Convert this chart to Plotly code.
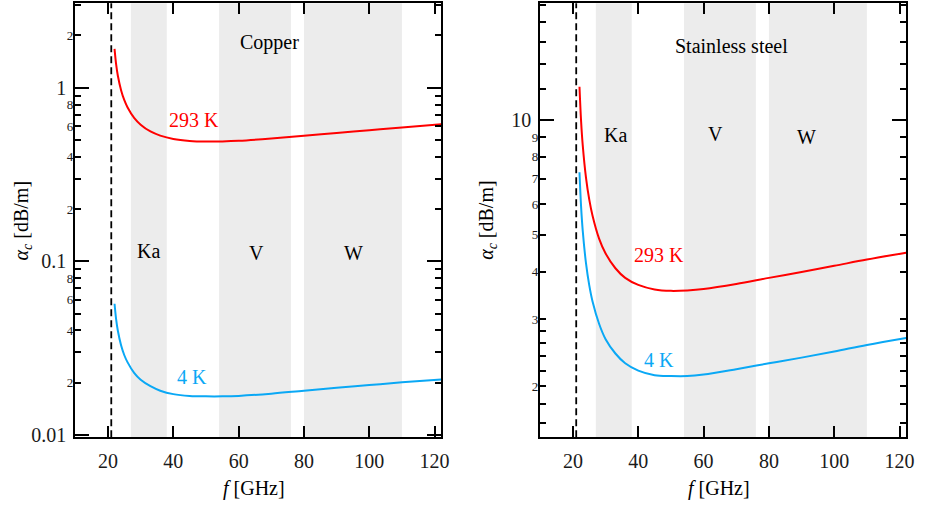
import math
import plotly.graph_objects as go

# ---------------- data ----------------
freq = [22, 22.5, 23, 24, 25, 26, 28, 30, 33, 36, 40, 45, 50, 55, 60, 70, 80, 90, 100, 110, 122]
cu_293 = [1.676, 1.358, 1.176, 0.968, 0.848, 0.770, 0.671, 0.613, 0.560, 0.530, 0.507,
          0.494, 0.490, 0.491, 0.495, 0.510, 0.529, 0.549, 0.569, 0.590, 0.616]
cu_4 = [0.0570, 0.0462, 0.0400, 0.0329, 0.0288, 0.0262, 0.0228, 0.0208, 0.0191, 0.0180, 0.0172,
        0.0168, 0.0167, 0.0167, 0.0168, 0.0173, 0.0180, 0.0187, 0.0194, 0.0201, 0.0209]
ss_293 = [12.19, 9.88, 8.56, 7.04, 6.17, 5.60, 4.88, 4.46, 4.08, 3.85, 3.69,
          3.59, 3.56, 3.57, 3.60, 3.71, 3.85, 3.99, 4.14, 4.30, 4.48]
ss_4 = [7.28, 5.90, 5.11, 4.20, 3.68, 3.34, 2.92, 2.66, 2.44, 2.30, 2.20,
        2.14, 2.13, 2.13, 2.15, 2.22, 2.30, 2.38, 2.47, 2.57, 2.68]

f_cutoff = 21.0
band_names = ["Ka", "V", "W"]
band_lo = [27, 54, 80]
band_hi = [38, 76, 110]

x_ticks = [20, 40, 60, 80, 100, 120]

cu_major = [0.01, 0.1, 1]
cu_major_text = ["0.01", "0.1", "1"]
cu_minor_lab = [0.02, 0.04, 0.06, 0.08, 0.2, 0.4, 0.6, 0.8, 2]
cu_minor_text = ["2", "4", "6", "8", "2", "4", "6", "8", "2"]
cu_minor_nolab = [0.03, 0.05, 0.07, 0.09, 0.3, 0.5, 0.7, 0.9, 3]

ss_major = [10]
ss_major_text = ["10"]
ss_minor_lab = [2, 3, 4, 5, 6, 7, 8, 9, 20]
ss_minor_text = ["2", "3", "4", "5", "6", "7", "8", "9", "2"]
ss_minor_nolab = [1.6, 1.8, 2.2, 2.4, 2.6, 2.8, 12, 14, 16, 18]

# ---------------- styling ----------------
W, H = 925, 518
FONT = "Liberation Serif"
RED = "#ff0000"
BLUE = "#0aa8f5"
GRAY = "#ececec"

x_range = [10, 122]
cu_range = [-2.013, 0.4867]
ss_range = [0.168, 1.3047]

dom_x1 = [76 / W, 445 / W]
dom_x2 = [545 / W, 914 / W]
dom_y = [(H - 445) / H, (H - 3.3) / H]

fig = go.Figure()

# curves
fig.add_trace(go.Scatter(x=freq, y=cu_293, mode="lines", line=dict(color=RED, width=2, shape="spline"),
                         xaxis="x", yaxis="y", showlegend=False))
fig.add_trace(go.Scatter(x=freq, y=cu_4, mode="lines", line=dict(color=BLUE, width=2, shape="spline"),
                         xaxis="x", yaxis="y", showlegend=False))
fig.add_trace(go.Scatter(x=freq, y=ss_293, mode="lines", line=dict(color=RED, width=2, shape="spline"),
                         xaxis="x2", yaxis="y2", showlegend=False))
fig.add_trace(go.Scatter(x=freq, y=ss_4, mode="lines", line=dict(color=BLUE, width=2, shape="spline"),
                         xaxis="x2", yaxis="y2", showlegend=False))
# helper traces for overlay axes (minor-labelled ticks)
fig.add_trace(go.Scatter(x=[None], y=[None], xaxis="x", yaxis="y3", showlegend=False, hoverinfo="skip"))
fig.add_trace(go.Scatter(x=[None], y=[None], xaxis="x2", yaxis="y4", showlegend=False, hoverinfo="skip"))

# bands and cutoff line
for xr, yr in (("x", "y domain"), ("x2", "y2 domain")):
    for lo, hi in zip(band_lo, band_hi):
        fig.add_shape(type="rect", xref=xr, yref=yr, x0=lo, x1=hi, y0=0, y1=1,
                      fillcolor=GRAY, line_width=0, layer="below")
    fig.add_shape(type="line", xref=xr, yref=yr, x0=f_cutoff, x1=f_cutoff, y0=0, y1=1,
                  line=dict(color="black", width=1.8, dash="7px,4px"), layer="above")

tick_font = dict(family=FONT, size=20, color="#1a1a1a")
minor_font = dict(family=FONT, size=13, color="#1a1a1a")

def xaxis(domain, anchor):
    return dict(domain=domain, anchor=anchor, range=x_range, tickvals=x_ticks,
                ticks="inside", ticklen=11, tickwidth=1.6, tickcolor="black",
                showline=True, linewidth=2, linecolor="black", mirror="ticks",
                showgrid=False, zeroline=False, tickfont=tick_font, ticklabelstandoff=5)

def yaxis_major(anchor, rng, vals, text, minor_vals):
    return dict(domain=dom_y, anchor=anchor, type="log", range=rng,
                tickvals=vals, ticktext=text, ticks="inside", ticklen=14, tickwidth=1.6,
                tickcolor="black", showline=True, linewidth=2, linecolor="black",
                mirror="ticks", showgrid=False, zeroline=False, tickfont=tick_font,
                ticklabelstandoff=3,
                minor=dict(tickvals=minor_vals, ticks="inside", ticklen=6, tickwidth=1.6,
                           tickcolor="black", showgrid=False))

def yaxis_minor(anchor, over, rng, vals, text):
    return dict(domain=dom_y, anchor=anchor, overlaying=over, side="left", type="log", range=rng,
                tickvals=vals, ticktext=text, ticks="inside", ticklen=6, tickwidth=1.6,
                tickcolor="black", showline=False, mirror="ticks", showgrid=False,
                zeroline=False, tickfont=minor_font, ticklabelstandoff=1)

fig.update_layout(
    width=W, height=H,
    margin=dict(l=0, r=0, t=0, b=0),
    paper_bgcolor="white", plot_bgcolor="white",
    xaxis=xaxis(dom_x1, "y"),
    xaxis2=xaxis(dom_x2, "y2"),
    yaxis=yaxis_major("x", cu_range, cu_major, cu_major_text, cu_minor_nolab),
    yaxis2=yaxis_major("x2", ss_range, ss_major, ss_major_text, ss_minor_nolab),
    yaxis3=yaxis_minor("x", "y", cu_range, cu_minor_lab, cu_minor_text),
    yaxis4=yaxis_minor("x2", "y2", ss_range, ss_minor_lab, ss_minor_text),
    font=dict(family=FONT, size=20, color="black"),
)

def ann(xr, yr, x, yval, text, color="black", size=20):
    fig.add_annotation(xref=xr, yref=yr, x=x, y=math.log10(yval), text=text, showarrow=False,
                       font=dict(family=FONT, size=size, color=color), xanchor="center", yanchor="middle")

# copper panel labels
ann("x", "y", 69.5, 1.83, "Copper")
ann("x", "y", 46.2, 0.653, "293 K", RED)
ann("x", "y", 45.8, 0.0215, "4 K", BLUE)
for name, x, yv in zip(band_names, [32.4, 65.6, 95.3], [0.115, 0.112, 0.112]):
    ann("x", "y", x, yv, name)

# stainless steel panel labels
ann("x2", "y2", 68.4, 15.6, "Stainless steel")
ann("x2", "y2", 46.2, 4.43, "293 K", RED)
ann("x2", "y2", 46.4, 2.35, "4 K", BLUE)
for name, x, yv in zip(band_names, [32.9, 63.7, 91.6], [9.13, 9.19, 9.03]):
    ann("x2", "y2", x, yv, name)

# axis titles
ytitle = "<i>α</i><sub><i>c</i></sub> [dB/m]"
xtitle = "<i>f</i> [GHz]"
for xp in (22.5 / W, 491 / W):
    fig.add_annotation(xref="paper", yref="paper", x=xp, y=(H - 224) / H, text=ytitle,
                       textangle=-90, showarrow=False, font=dict(family=FONT, size=20),
                       xanchor="center", yanchor="middle")
for xp in (256 / W, 725 / W):
    fig.add_annotation(xref="paper", yref="paper", x=xp, y=(H - 497) / H, text=xtitle,
                       showarrow=False, font=dict(family=FONT, size=20),
                       xanchor="center", yanchor="middle")

fig.write_html("out.html")
